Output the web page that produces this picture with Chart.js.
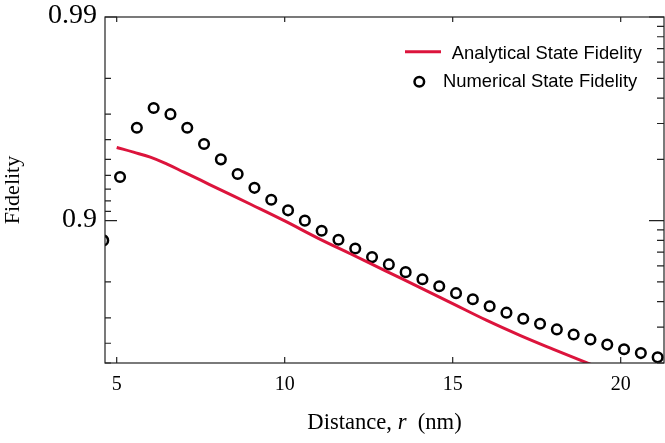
<!DOCTYPE html>
<html><head><meta charset="utf-8">
<script src="https://cdn.jsdelivr.net/npm/chart.js@4.4.1/dist/chart.umd.min.js"></script>
<style>html,body{margin:0;padding:0;background:#fff;overflow:hidden}#wrap{width:665px;height:443px;position:relative}</style>
</head><body><div id="wrap"><canvas id="c" width="665" height="443"></canvas></div>
<script>
// ---- data ----
const numericalR = [4.6,5.1,5.6,6.1,6.6,7.1,7.6,8.1,8.6,9.1,9.6,10.1,10.6,11.1,11.6,12.1,12.6,13.1,13.6,14.1,14.6,15.1,15.6,16.1,16.6,17.1,17.6,18.1,18.6,19.1,19.6,20.1,20.6,21.1];
const numericalFidelity = [0.875,0.939,0.965,0.972,0.970,0.965,0.958,0.950,0.941,0.931,0.921,0.911,0.900,0.888,0.876,0.863,0.849,0.836,0.821,0.806,0.790,0.773,0.757,0.737,0.717,0.697,0.679,0.658,0.638,0.617,0.594,0.572,0.553,0.531];
const analyticalR = [5,5.5,6,6.5,7,7.5,8,9,10,11,12,13,14,15,16,17,18,19,20,21];
const analyticalFidelity = [0.9563,0.9539,0.9512,0.9472,0.9422,0.9367,0.9306,0.9167,0.8997,0.8779,0.8534,0.8237,0.7879,0.7445,0.6919,0.6343,0.5715,0.5006,0.420,0.328];
const xTickValues = [5,10,15,20];
const yTickLabels = [0.99, 0.9];
const yMinorLeft = [0.98,0.97,0.96,0.95,0.94,0.93,0.92,0.91,0.8,0.7,0.6,0.5];
const yRightTicks = [0.98889,0.9875,0.98571,0.98333,0.98,0.975,0.96667,0.95,0.88889,0.875,0.85714,0.83333,0.8,0.75,0.66667,0.5];
const xRange = [4.652, 21.289];
const yRange = [0.99, 0.5];

const SERIF = '"Liberation Serif", "Times New Roman", serif';
const SANS = '"Liberation Sans", Arial, sans-serif';

const framePlugin = {
  id: 'frame',
  afterDraw(chart) {
    const {ctx, chartArea: a, scales} = chart;
    const xs = scales.x, ys = scales.y;
    ctx.save();
    ctx.strokeStyle = '#222';
    ctx.lineWidth = 1.2;
    ctx.beginPath();
    const seg = (x1,y1,x2,y2)=>{ctx.moveTo(x1,y1);ctx.lineTo(x2,y2);};
    xTickValues.forEach(v => {
      const px = xs.getPixelForValue(v);
      seg(px, a.bottom, px, a.bottom - 6);
      seg(px, a.top, px, a.top + 5);
    });
    yTickLabels.forEach(f => {
      const py = ys.getPixelForValue(1 - f);
      seg(a.left, py, a.left + 12, py);
      seg(a.right, py, a.right - 15, py);
    });
    yMinorLeft.forEach(f => {
      const py = ys.getPixelForValue(1 - f);
      seg(a.left, py, a.left + 6, py);
    });
    yRightTicks.forEach(f => {
      const py = ys.getPixelForValue(1 - f);
      seg(a.right, py, a.right - 7, py);
    });
    ctx.stroke();
    ctx.strokeRect(a.left, a.top, a.right - a.left, a.bottom - a.top);

    // x-axis title with italic r
    const parts = [['Distance, ', 'normal'], ['r', 'italic'], ['  (nm)', 'normal']];
    const size = 22.6;
    let total = 0;
    parts.forEach(p => { ctx.font = p[1] + ' ' + size + 'px ' + SERIF; total += ctx.measureText(p[0]).width; });
    let x = (a.left + a.right) / 2 - total / 2;
    ctx.fillStyle = '#000';
    ctx.textBaseline = 'alphabetic';
    ctx.textAlign = 'left';
    parts.forEach(p => { ctx.font = p[1] + ' ' + size + 'px ' + SERIF; ctx.fillText(p[0], x, 428.5); x += ctx.measureText(p[0]).width; });

    // legend
    const ds = chart.data.datasets;
    ctx.font = '18.4px ' + SANS;
    ctx.strokeStyle = ds[0].borderColor;
    ctx.lineWidth = 3;
    ctx.beginPath(); ctx.moveTo(405, 51.7); ctx.lineTo(441, 51.7); ctx.stroke();
    ctx.fillText(ds[0].label, 451.7, 59);
    ctx.strokeStyle = '#000';
    ctx.lineWidth = 2.5;
    ctx.beginPath(); ctx.arc(419.3, 81.7, 4.8, 0, Math.PI * 2); ctx.stroke();
    ctx.fillText(ds[1].label, 443, 86.7);
    ctx.restore();
  }
};

new Chart(document.getElementById('c'), {
  type: 'scatter',
  data: {
    datasets: [
      {
        label: 'Analytical State Fidelity',
        data: analyticalR.map((r, i) => ({x: r, y: 1 - analyticalFidelity[i]})),
        showLine: true,
        borderColor: '#DC143C',
        backgroundColor: '#DC143C',
        borderWidth: 3,
        pointRadius: 0,
        tension: 0.4,
        clip: 0
      },
      {
        label: 'Numerical State Fidelity',
        data: numericalR.map((r, i) => ({x: r, y: 1 - numericalFidelity[i]})),
        showLine: false,
        pointStyle: 'circle',
        pointRadius: 4.8,
        pointBorderWidth: 2.5,
        pointBorderColor: '#000',
        pointBackgroundColor: 'rgba(0,0,0,0)',
        clip: 0
      }
    ]
  },
  options: {
    responsive: false,
    animation: false,
    devicePixelRatio: 1,
    layout: {autoPadding: false, padding: {top: 17, right: 1, left: 0, bottom: 0}},
    plugins: {legend: {display: false}, tooltip: {enabled: false}},
    scales: {
      x: {
        type: 'linear',
        min: xRange[0], max: xRange[1],
        grid: {display: false, drawTicks: false},
        border: {display: false},
        afterBuildTicks: s => { s.ticks = xTickValues.map(v => ({value: v})); },
        afterFit: s => { s.height = 80; s.paddingLeft = 0; s.paddingRight = 0; },
        ticks: {autoSkip: false, maxRotation: 0, padding: 10, color: '#000', font: {family: SERIF, size: 20}},
        title: {display: false}
      },
      y: {
        type: 'logarithmic',
        reverse: true,
        min: 1 - yRange[0], max: 1 - yRange[1],
        grid: {display: false, drawTicks: false},
        border: {display: false},
        afterBuildTicks: s => { s.ticks = yTickLabels.map(f => ({value: 1 - f})); },
        afterFit: s => { s.width = 105; s.paddingTop = 0; s.paddingBottom = 0; },
        ticks: {autoSkip: false, padding: 8, labelOffset: -1.5, color: '#000', font: {family: SERIF, size: 28},
          callback: v => String(Math.round((1 - v) * 100) / 100)},
        title: {display: true, text: 'Fidelity', color: '#000', font: {family: SERIF, size: 22, lineHeight: 1}, padding: {top: 2, bottom: 0}}
      }
    }
  },
  plugins: [framePlugin]
});
</script></body></html>
